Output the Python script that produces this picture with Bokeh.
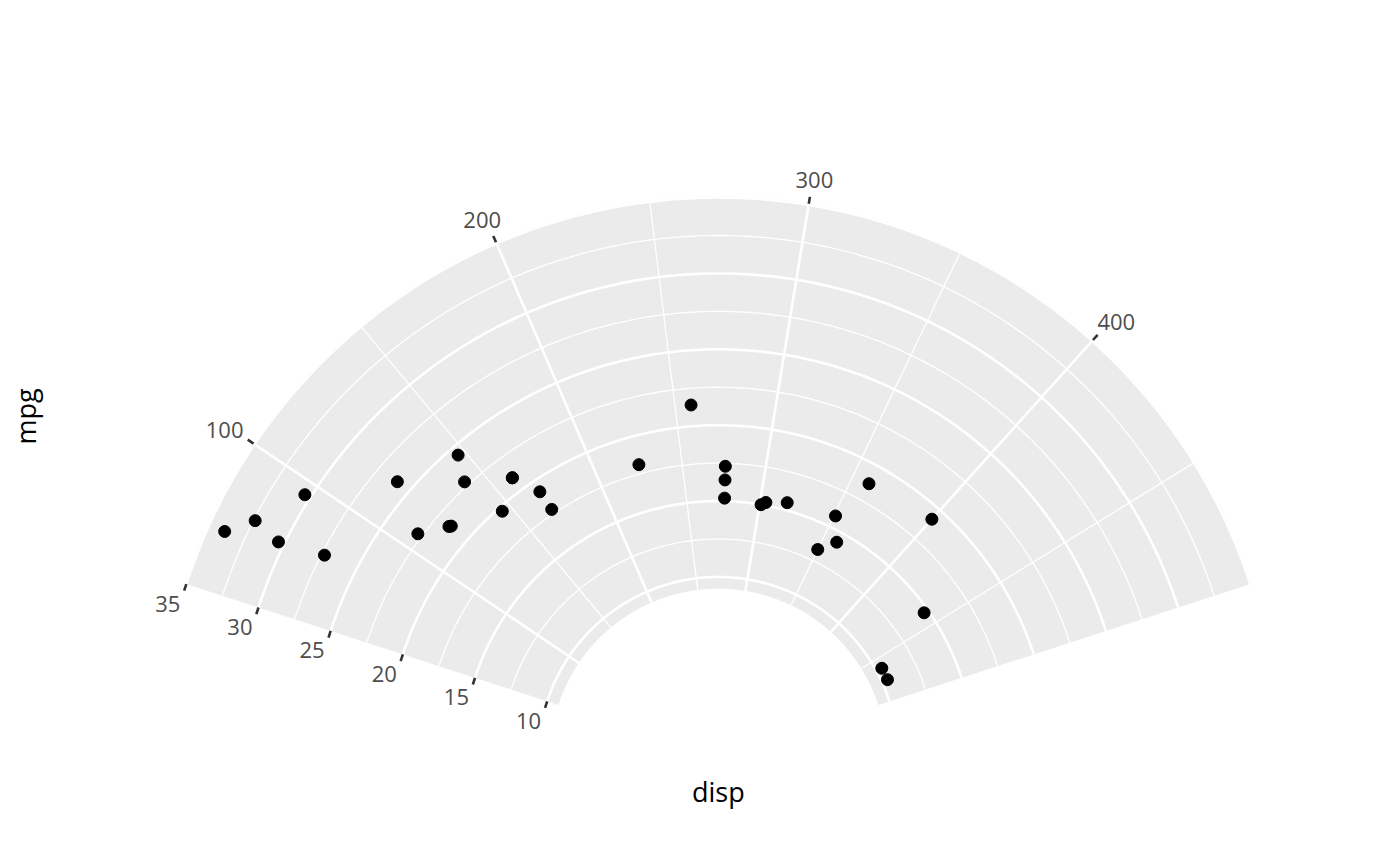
import numpy as np
from bokeh.plotting import figure
from bokeh.models import Range1d
from bokeh.core.properties import value
from bokeh.embed import file_html
from bokeh.resources import INLINE

# mtcars: displacement (theta) and miles per gallon (radius)
disp = [160, 160, 108, 258, 360, 225, 360, 146.7, 140.8, 167.6, 167.6,
        275.8, 275.8, 275.8, 472, 460, 440, 78.7, 75.7, 71.1, 120.1, 318,
        304, 350, 400, 79, 120.3, 95.1, 351, 145, 301, 121]
mpg = [21.0, 21.0, 22.8, 21.4, 18.7, 18.1, 14.3, 24.4, 22.8, 19.2, 17.8,
       16.4, 17.3, 15.2, 10.4, 10.4, 14.7, 32.4, 30.4, 33.9, 21.5, 15.5,
       15.2, 13.3, 19.2, 27.3, 26.0, 30.4, 15.8, 19.7, 15.0, 21.4]

theta_breaks = [100, 200, 300, 400]
theta_labels = ["100", "200", "300", "400"]
theta_minor = [150, 250, 350, 450]
r_breaks = [10, 15, 20, 25, 30, 35]
r_labels = ["10", "15", "20", "25", "30", "35"]
r_minor = [12.5, 17.5, 22.5, 27.5, 32.5]


def expand(v, mult=0.05):
    lo, hi = min(v), max(v)
    d = (hi - lo) * mult
    return lo - d, hi + d


t_lo, t_hi = expand(disp)
r_lo, r_hi = expand(mpg)

# geometry (pixels, y measured upwards from page bottom)
H = 866
CX, CY = 717.8, H - 756.4
R_OUT = 560.5
R_IN = 0.3 * R_OUT
A0, A1 = -0.4 * np.pi, 0.4 * np.pi
FONT = "Open Sans"
TICK_FS = 22
TITLE_FS = 27


def ang(t):
    return A0 + (np.asarray(t, float) - t_lo) / (t_hi - t_lo) * (A1 - A0)


def rad(r):
    return R_IN + (np.asarray(r, float) - r_lo) / (r_hi - r_lo) * (R_OUT - R_IN)


def polar(a, r):
    return CX + r * np.sin(a), CY + r * np.cos(a)


p = figure(width=1384, height=850, x_range=Range1d(0, 1384), y_range=Range1d(16, 866),
           output_backend="svg", toolbar_location=None, min_border=0,
           x_axis_type=None, y_axis_type=None)
p.grid.visible = False
p.outline_line_color = None

# panel background
arc = np.linspace(A0, A1, 300)
ox, oy = polar(arc, R_OUT)
ix, iy = polar(arc[::-1], R_IN)
p.patch(np.concatenate([ox, ix]), np.concatenate([oy, iy]),
        fill_color="#EBEBEB", line_color=None)


def circles(vals):
    xs, ys = [], []
    for v in vals:
        x, y = polar(arc, rad(v))
        xs.append(x)
        ys.append(y)
    return xs, ys


def spokes(vals):
    xs, ys = [], []
    for v in vals:
        a = ang(v)
        x, y = polar(a, np.array([R_IN, R_OUT]))
        xs.append(x)
        ys.append(y)
    return xs, ys


xs, ys = circles(r_minor)
p.multi_line(xs, ys, line_color="white", line_width=1.3)
xs, ys = spokes(theta_minor)
p.multi_line(xs, ys, line_color="white", line_width=1.3)
xs, ys = circles(r_breaks)
p.multi_line(xs, ys, line_color="white", line_width=2.6)
xs, ys = spokes(theta_breaks)
p.multi_line(xs, ys, line_color="white", line_width=2.6)

# points
px, py = polar(ang(disp), rad(mpg))
p.scatter(px, py, size=12, color="black")

# theta axis (outer edge)
ta = ang(theta_breaks)
t0x, t0y = polar(ta, R_OUT)
t1x, t1y = polar(ta, R_OUT + 7)
p.segment(t0x, t0y, t1x, t1y, line_color="#333333", line_width=2.6)
ax_, ay_ = polar(ta, R_OUT + 16)
w = np.array([len(s) for s in theta_labels]) * 0.572 * TICK_FS
h = 0.72 * TICK_FS
lx = ax_ + np.sin(ta) * w / 2
ly = ay_ + np.cos(ta) * h / 2
p.text(lx, ly, text=theta_labels, text_font=value(FONT), text_font_size=value(f"{TICK_FS}px"),
       text_color="#4D4D4D", text_align="center", text_baseline="middle")

# r axis (left edge)
rr = rad(r_breaks)
ex, ey = polar(A0, rr)
nx, ny = -np.cos(A0), np.sin(A0)
p.segment(ex, ey, ex + nx * 7, ey + ny * 7, line_color="#333333", line_width=2.6)
p.text(ex - 6, ey - 19.5, text=r_labels, text_font=value(FONT),
       text_font_size=value(f"{TICK_FS}px"), text_color="#4D4D4D",
       text_align="right", text_baseline="middle")

# axis titles
p.text([CX], [H - 791], text=["disp"], text_font=value(FONT),
       text_font_size=value(f"{TITLE_FS}px"), text_color="black",
       text_align="center", text_baseline="middle")
p.text([25], [H - 416], text=["mpg"], text_font=value(FONT), angle=np.pi / 2,
       text_font_size=value(f"{TITLE_FS}px"), text_color="black",
       text_align="center", text_baseline="middle")

open("out.html", "w").write(file_html(p, INLINE))
